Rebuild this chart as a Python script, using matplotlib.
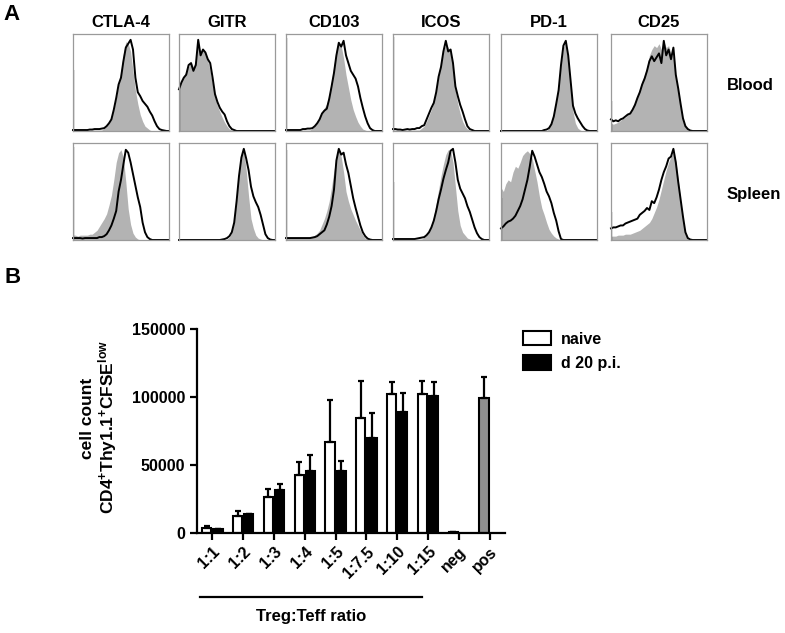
import numpy as np
import matplotlib
matplotlib.use('Agg')
import matplotlib.pyplot as plt
import matplotlib.transforms as mtransforms
from matplotlib.patches import Patch

plt.rcParams['font.family'] = ['Liberation Sans', 'DejaVu Sans']
plt.rcParams['font.weight'] = 'bold'
plt.rcParams['mathtext.fontset'] = 'custom'
plt.rcParams['mathtext.rm'] = 'Liberation Sans:bold'
plt.rcParams['mathtext.it'] = 'Liberation Sans:bold'
plt.rcParams['mathtext.bf'] = 'Liberation Sans:bold'

# ---- panel A: flow histograms (heights as fraction of box height, 41 channels)
markers = ['CTLA-4', 'GITR', 'CD103', 'ICOS', 'PD-1', 'CD25']
tissues = ['Blood', 'Spleen']

blood_line = {
    'CTLA-4': [0.01, 0.01, 0.01, 0.01, 0.01, 0.01, 0.01, 0.015, 0.015, 0.02, 0.02, 0.02, 0.025, 0.03, 0.05, 0.08, 0.12, 0.22, 0.34, 0.48, 0.55, 0.72, 0.86, 0.90, 0.94, 0.84, 0.55, 0.40, 0.36, 0.31, 0.28, 0.25, 0.20, 0.16, 0.10, 0.05, 0.02, 0.01, 0.005, 0, 0],
    'GITR': [0.43, 0.50, 0.55, 0.58, 0.68, 0.70, 0.62, 0.68, 0.94, 0.78, 0.84, 0.81, 0.74, 0.70, 0.55, 0.38, 0.30, 0.24, 0.20, 0.17, 0.10, 0.05, 0.02, 0.01, 0, 0, 0, 0, 0, 0, 0, 0, 0, 0, 0, 0, 0, 0, 0, 0, 0],
    'CD103': [0.01, 0.01, 0.01, 0.01, 0.01, 0.01, 0.01, 0.02, 0.02, 0.025, 0.025, 0.03, 0.05, 0.08, 0.12, 0.18, 0.21, 0.23, 0.33, 0.46, 0.60, 0.78, 0.91, 0.87, 0.93, 0.78, 0.70, 0.62, 0.58, 0.54, 0.46, 0.34, 0.24, 0.15, 0.08, 0.03, 0.01, 0, 0, 0, 0],
    'ICOS': [0.02, 0.02, 0.015, 0.015, 0.01, 0.015, 0.02, 0.015, 0.02, 0.02, 0.03, 0.03, 0.05, 0.06, 0.12, 0.18, 0.24, 0.29, 0.40, 0.56, 0.66, 0.82, 0.93, 0.82, 0.84, 0.70, 0.46, 0.36, 0.27, 0.20, 0.12, 0.05, 0.02, 0.01, 0, 0, 0, 0, 0, 0, 0],
    'PD-1': [0, 0, 0, 0, 0, 0, 0, 0, 0, 0, 0, 0, 0, 0, 0, 0, 0, 0, 0.01, 0.015, 0.03, 0.07, 0.15, 0.28, 0.42, 0.68, 0.88, 0.93, 0.78, 0.52, 0.26, 0.18, 0.13, 0.09, 0.05, 0.02, 0.005, 0, 0, 0, 0],
    'CD25': [0.12, 0.10, 0.11, 0.10, 0.12, 0.13, 0.15, 0.17, 0.18, 0.22, 0.27, 0.34, 0.40, 0.48, 0.54, 0.62, 0.72, 0.77, 0.72, 0.76, 0.80, 0.70, 0.93, 0.78, 0.84, 0.74, 0.86, 0.58, 0.44, 0.28, 0.13, 0.05, 0.02, 0.005, 0, 0, 0, 0, 0, 0, 0],
}
blood_fill = {
    'CTLA-4': [0.01, 0.01, 0.01, 0.01, 0.01, 0.01, 0.01, 0.01, 0.01, 0.01, 0.01, 0.01, 0.01, 0.03, 0.05, 0.08, 0.13, 0.22, 0.34, 0.48, 0.62, 0.80, 0.92, 0.90, 0.82, 0.62, 0.42, 0.28, 0.17, 0.10, 0.05, 0.03, 0.01, 0, 0, 0, 0, 0, 0, 0, 0],
    'GITR': [0.45, 0.52, 0.56, 0.62, 0.66, 0.72, 0.66, 0.74, 0.90, 0.82, 0.85, 0.80, 0.72, 0.62, 0.48, 0.35, 0.26, 0.20, 0.14, 0.09, 0.05, 0.02, 0.01, 0, 0, 0, 0, 0, 0, 0, 0, 0, 0, 0, 0, 0, 0, 0, 0, 0, 0],
    'CD103': [0.01, 0.01, 0.01, 0.01, 0.01, 0.01, 0.01, 0.01, 0.01, 0.01, 0.01, 0.03, 0.05, 0.09, 0.13, 0.19, 0.24, 0.28, 0.38, 0.52, 0.68, 0.84, 0.90, 0.88, 0.75, 0.58, 0.45, 0.32, 0.22, 0.15, 0.09, 0.05, 0.02, 0.01, 0, 0, 0, 0, 0, 0, 0],
    'ICOS': [0.01, 0.01, 0.01, 0.01, 0.01, 0.01, 0.01, 0.01, 0.01, 0.01, 0.01, 0.01, 0.03, 0.05, 0.10, 0.16, 0.22, 0.30, 0.42, 0.56, 0.68, 0.82, 0.90, 0.86, 0.80, 0.62, 0.42, 0.28, 0.18, 0.10, 0.05, 0.02, 0.01, 0, 0, 0, 0, 0, 0, 0, 0],
    'PD-1': [0, 0, 0, 0, 0, 0, 0, 0, 0, 0, 0, 0, 0, 0, 0, 0, 0, 0, 0, 0, 0.03, 0.08, 0.17, 0.30, 0.45, 0.70, 0.86, 0.92, 0.76, 0.45, 0.20, 0.08, 0.03, 0.01, 0, 0, 0, 0, 0, 0, 0],
    'CD25': [0.08, 0.07, 0.08, 0.09, 0.11, 0.13, 0.14, 0.17, 0.19, 0.23, 0.28, 0.36, 0.44, 0.52, 0.58, 0.66, 0.78, 0.84, 0.88, 0.86, 0.90, 0.84, 0.92, 0.86, 0.88, 0.80, 0.76, 0.56, 0.40, 0.24, 0.10, 0.04, 0.01, 0, 0, 0, 0, 0, 0, 0, 0],
}
spleen_line = {
    'CTLA-4': [0.02, 0.02, 0.02, 0.02, 0.015, 0.02, 0.02, 0.02, 0.02, 0.02, 0.02, 0.03, 0.03, 0.04, 0.06, 0.10, 0.15, 0.22, 0.30, 0.50, 0.62, 0.78, 0.93, 0.90, 0.80, 0.68, 0.56, 0.44, 0.34, 0.18, 0.08, 0.03, 0.01, 0, 0, 0, 0, 0, 0, 0, 0],
    'GITR': [0, 0, 0, 0, 0, 0, 0, 0, 0, 0, 0, 0, 0, 0, 0, 0, 0, 0, 0.005, 0.01, 0.02, 0.04, 0.08, 0.18, 0.40, 0.66, 0.85, 0.94, 0.84, 0.72, 0.55, 0.45, 0.39, 0.34, 0.26, 0.16, 0.06, 0.02, 0.005, 0, 0],
    'CD103': [0.02, 0.02, 0.02, 0.02, 0.02, 0.02, 0.02, 0.02, 0.02, 0.02, 0.02, 0.025, 0.03, 0.04, 0.06, 0.08, 0.10, 0.16, 0.24, 0.35, 0.52, 0.82, 0.94, 0.88, 0.90, 0.78, 0.69, 0.56, 0.43, 0.33, 0.24, 0.15, 0.08, 0.04, 0.015, 0.005, 0, 0, 0, 0, 0],
    'ICOS': [0.01, 0.01, 0.01, 0.01, 0.01, 0.01, 0.01, 0.01, 0.01, 0.01, 0.015, 0.02, 0.025, 0.03, 0.05, 0.08, 0.13, 0.20, 0.30, 0.42, 0.52, 0.63, 0.72, 0.80, 0.92, 0.94, 0.80, 0.62, 0.53, 0.48, 0.43, 0.35, 0.29, 0.21, 0.13, 0.07, 0.03, 0.01, 0, 0, 0],
    'PD-1': [0.12, 0.14, 0.17, 0.19, 0.20, 0.22, 0.25, 0.30, 0.35, 0.42, 0.52, 0.62, 0.76, 0.92, 0.86, 0.78, 0.70, 0.65, 0.58, 0.50, 0.45, 0.38, 0.28, 0.20, 0.09, 0.01, 0, 0, 0, 0, 0, 0, 0, 0, 0, 0, 0, 0, 0, 0, 0],
    'CD25': [0.12, 0.13, 0.13, 0.14, 0.15, 0.15, 0.17, 0.18, 0.19, 0.20, 0.21, 0.22, 0.26, 0.28, 0.30, 0.33, 0.31, 0.40, 0.38, 0.44, 0.52, 0.62, 0.70, 0.76, 0.84, 0.86, 0.94, 0.80, 0.60, 0.42, 0.24, 0.08, 0.02, 0.005, 0, 0, 0, 0, 0, 0, 0],
}
spleen_fill = {
    'CTLA-4': [0.05, 0.05, 0.04, 0.05, 0.05, 0.05, 0.05, 0.06, 0.06, 0.08, 0.10, 0.14, 0.18, 0.22, 0.27, 0.36, 0.46, 0.62, 0.80, 0.90, 0.93, 0.85, 0.60, 0.32, 0.16, 0.07, 0.03, 0.01, 0, 0, 0, 0, 0, 0, 0, 0, 0, 0, 0, 0, 0],
    'GITR': [0, 0, 0, 0, 0, 0, 0, 0, 0, 0, 0, 0, 0, 0, 0, 0, 0, 0, 0, 0, 0.01, 0.03, 0.08, 0.20, 0.42, 0.70, 0.88, 0.92, 0.72, 0.45, 0.22, 0.12, 0.05, 0.02, 0.01, 0, 0, 0, 0, 0, 0],
    'CD103': [0.02, 0.02, 0.02, 0.02, 0.02, 0.02, 0.02, 0.02, 0.02, 0.025, 0.03, 0.035, 0.05, 0.07, 0.10, 0.16, 0.22, 0.30, 0.40, 0.55, 0.72, 0.86, 0.93, 0.86, 0.70, 0.50, 0.40, 0.32, 0.26, 0.20, 0.15, 0.10, 0.05, 0.02, 0.01, 0, 0, 0, 0, 0, 0],
    'ICOS': [0.01, 0.01, 0.01, 0.01, 0.01, 0.01, 0.01, 0.01, 0.01, 0.01, 0.01, 0.01, 0.01, 0.03, 0.05, 0.08, 0.14, 0.25, 0.38, 0.52, 0.66, 0.78, 0.88, 0.93, 0.92, 0.80, 0.55, 0.30, 0.15, 0.08, 0.05, 0.02, 0.01, 0, 0, 0, 0, 0, 0, 0, 0],
    'PD-1': [0.54, 0.50, 0.58, 0.62, 0.60, 0.70, 0.76, 0.74, 0.80, 0.87, 0.90, 0.92, 0.89, 0.84, 0.72, 0.60, 0.45, 0.33, 0.26, 0.18, 0.11, 0.07, 0.04, 0.02, 0.01, 0, 0, 0, 0, 0, 0, 0, 0, 0, 0, 0, 0, 0, 0, 0, 0],
    'CD25': [0.04, 0.04, 0.04, 0.05, 0.05, 0.05, 0.06, 0.06, 0.06, 0.07, 0.08, 0.09, 0.10, 0.12, 0.14, 0.16, 0.18, 0.22, 0.28, 0.34, 0.42, 0.52, 0.62, 0.72, 0.80, 0.86, 0.90, 0.82, 0.62, 0.40, 0.20, 0.06, 0.01, 0, 0, 0, 0, 0, 0, 0, 0],
}
# pile-up of events in the first channel (black line)
edge_line = {
    'Blood': [0.63, 0.43, 0.96, 0.97, 0.0, 0.31],
    'Spleen': [0.96, 0.0, 0.93, 0.60, 0.43, 0.29],
}

# ---- panel B: suppression assay
ratios = ['1:1', '1:2', '1:3', '1:4', '1:5', '1:7.5', '1:10', '1:15', 'neg', 'pos']
naive_mean = [3900, 12500, 26700, 42600, 67100, 84800, 102000, 102000]
naive_err = [1500, 3700, 5400, 9600, 30400, 27200, 9200, 10000]
d20_mean = [2700, 13700, 31400, 45800, 45800, 69600, 89200, 100700]
d20_err = [500, 600, 4400, 11300, 7100, 18800, 13500, 10000]
ctrl_mean = [400, 99600]
ctrl_err = [0, 14800]

W, H = 785, 633
fig = plt.figure(figsize=(W / 100, H / 100), dpi=100)

col_left = [73, 179, 286, 393, 501, 611]
row_top = [34, 143]
box_w, box_h = 96, 97
fill_col = '#b3b3b3'

for r, tissue in enumerate(tissues):
    lines = blood_line if tissue == 'Blood' else spleen_line
    fills = blood_fill if tissue == 'Blood' else spleen_fill
    for c, m in enumerate(markers):
        ax = fig.add_axes([col_left[c] / W, 1 - (row_top[r] + box_h) / H, box_w / W, box_h / H])
        yf = np.array(fills[m])
        yl = np.array(lines[m])
        ax.fill_between(np.linspace(0, 1, len(yf)), 0, yf, color=fill_col, lw=0)
        ax.plot(np.linspace(0, 1, len(yl)), yl, color='black', lw=1.4, clip_on=False)
        if edge_line[tissue][c] > 0:
            ax.vlines(0.003, 0, edge_line[tissue][c], color='black', lw=1.6)
        ax.set_xlim(0, 1)
        ax.set_ylim(0, 1)
        ax.set_xticks([])
        ax.set_yticks([])
        for s in ax.spines.values():
            s.set_color('#9a9a9a')
            s.set_linewidth(0.9)
        if r == 0:
            ax.set_title(m, fontsize=12, fontweight='bold', pad=5)
    fig.text(727 / W, 1 - (row_top[r] + 52) / H, tissue, fontsize=12, fontweight='bold', va='center')

fig.text(3 / W, 1 - 15 / H, 'A', fontsize=16, fontweight='bold', va='center')
fig.text(4 / W, 1 - 278 / H, 'B', fontsize=16, fontweight='bold', va='center')

# ---- panel B
axb = fig.add_axes([197 / W, 1 - 533 / H, 308 / W, 204 / H])
x = np.arange(len(ratios))
n = len(naive_mean)
bw, off = 0.30, 0.18
ekw = dict(ecolor='black', elinewidth=1.6, capsize=2.5, capthick=1.6)
axb.bar(x[:n] - off, naive_mean, bw, yerr=[np.zeros(n), naive_err], color='white',
        edgecolor='black', linewidth=1.5, error_kw=ekw)
axb.bar(x[:n] + off, d20_mean, bw, yerr=[np.zeros(n), d20_err], color='black',
        edgecolor='black', linewidth=1.5, error_kw=ekw)
axb.bar(x[n:] - off, ctrl_mean, bw, yerr=[np.zeros(2), ctrl_err], color='#8f8f8f',
        edgecolor='black', linewidth=1.5, error_kw=ekw)

axb.set_xlim(-0.5, 9.5)
axb.set_ylim(0, 150000)
axb.set_yticks([0, 50000, 100000, 150000])
axb.set_yticklabels(['0', '50000', '100000', '150000'])
axb.set_xticks(x)
axb.set_xticklabels(ratios, rotation=45, ha='right', va='top', rotation_mode='anchor')
axb.spines['top'].set_visible(False)
axb.spines['right'].set_visible(False)
for s in ['left', 'bottom']:
    axb.spines[s].set_linewidth(1.6)
axb.tick_params(direction='out', length=5, width=1.6, labelsize=11.5)
axb.tick_params(axis='x', pad=3)

fig.text(88 / W, 1 - 418 / H, 'cell count', rotation=90, fontsize=12.5,
         fontweight='bold', ha='center', va='center')
fig.text(108 / W, 1 - 427 / H, r'CD4$^{+}$Thy1.1$^{+}$CFSE$^{low}$', rotation=90,
         fontsize=12.5, fontweight='bold', ha='center', va='center')

trans = mtransforms.blended_transform_factory(axb.transData, axb.transAxes)
axb.plot([-0.4, 6.8], [-0.314, -0.314], color='black', lw=1.6, transform=trans, clip_on=False)
axb.text(3.2, -0.41, 'Treg:Teff ratio', transform=trans, ha='center', va='center',
         fontsize=12, fontweight='bold')

handles = [Patch(facecolor='white', edgecolor='black', linewidth=1.5),
           Patch(facecolor='black', edgecolor='black', linewidth=1.5)]
fig.legend(handles, ['naive', 'd 20 p.i.'], loc='upper left',
           bbox_to_anchor=(523 / W, 1 - 331 / H), frameon=False, fontsize=11.5,
           handlelength=1.75, handleheight=1.0, handletextpad=0.6, labelspacing=0.55,
           borderpad=0, borderaxespad=0)

fig.savefig('out.png', dpi=100)
